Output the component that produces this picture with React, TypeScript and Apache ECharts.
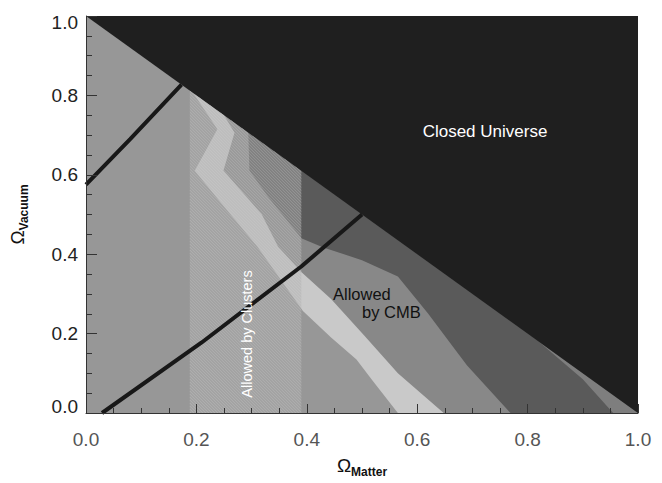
import React, { useEffect, useRef } from "react";
import * as echarts from "echarts";

// ---- data (Omega_Matter, Omega_Vacuum) ----
const xTickValues = [0, 0.2, 0.4, 0.6, 0.8, 1.0];
const plotBox = [[0, 0], [1, 0], [1, 1], [0, 1]];
const closedUniverse = [[0, 1], [1, 0], [1, 1]];
const lightEdge = [[0.195, 0.805], [0.238, 0.715], [0.197, 0.61], [0.25, 0.52], [0.31, 0.42], [0.393, 0.257], [0.444, 0.19], [0.49, 0.135], [0.52, 0.08], [0.565, 0]];
const mediumEdge = [[0.25, 0.75], [0.269, 0.706], [0.249, 0.611], [0.318, 0.501], [0.348, 0.419], [0.39, 0.355], [0.444, 0.287], [0.504, 0.195], [0.565, 0.1], [0.648, 0]];
const darkEdge = [[0.294, 0.706], [0.296, 0.611], [0.33, 0.544], [0.39, 0.44], [0.43, 0.417], [0.5, 0.385], [0.565, 0.344], [0.62, 0.25], [0.69, 0.12], [0.769, 0]];
const outerSliver = [[0.82, 0.18], [1, 0], [0.955, 0], [0.9, 0.085]];
const clusterStrip = [[0.188, 0], [0.39, 0], [0.39, 0.61], [0.188, 0.812]];
const lineA = [[0, 0.575], [0.08, 0.69], [0.173, 0.827]];
const lineB = [[0.029, 0], [0.209, 0.177], [0.39, 0.369], [0.5, 0.5]];

const closeRight = (edge: number[][]) => [...edge, [1, 0], [1, 1], [edge[0][0], 1]];

function polySeries(name: string, pts: number[][], color: string, z: number) {
  return {
    type: "custom",
    name,
    coordinateSystem: "cartesian2d",
    data: [[0, 0]],
    z,
    silent: true,
    clip: true,
    renderItem: (_p: any, api: any) => ({
      type: "polygon",
      shape: { points: pts.map((p) => api.coord(p)) },
      style: { fill: color },
    }),
  };
}

function clipDiag(poly: number[][], c: number) {
  const pts: number[][] = [];
  for (let i = 0; i < poly.length; i++) {
    const a = poly[i];
    const b = poly[(i + 1) % poly.length];
    const fa = a[0] - a[1] - c;
    const fb = b[0] - b[1] - c;
    if ((fa <= 0 && fb > 0) || (fa > 0 && fb <= 0)) {
      const t = fa / (fa - fb);
      pts.push([a[0] + t * (b[0] - a[0]), a[1] + t * (b[1] - a[1])]);
    }
  }
  if (pts.length < 2) return null;
  pts.sort((p, q) => p[0] - q[0]);
  return [pts[0], pts[pts.length - 1]];
}

function stripSeries() {
  return {
    type: "custom",
    name: "clusters",
    coordinateSystem: "cartesian2d",
    data: [[0, 0]],
    z: 7,
    silent: true,
    clip: true,
    renderItem: (_p: any, api: any) => {
      const px = clusterStrip.map((p) => api.coord(p));
      const children: any[] = [
        { type: "polygon", shape: { points: px }, style: { fill: "rgba(176,176,176,0.45)" } },
      ];
      const cs = px.map((p) => p[0] - p[1]);
      const cmin = Math.min(...cs);
      const cmax = Math.max(...cs);
      for (let c = cmin + 1; c < cmax; c += 3) {
        const seg = clipDiag(px, c);
        if (!seg) continue;
        children.push({
          type: "line",
          shape: { x1: seg[0][0], y1: seg[0][1], x2: seg[1][0], y2: seg[1][1] },
          style: { stroke: "rgba(215,215,215,0.28)", lineWidth: 1 },
        });
      }
      return { type: "group", children };
    },
  };
}

export default function App() {
  const ref = useRef<HTMLDivElement>(null);
  useEffect(() => {
    document.body.style.margin = "0";
    document.body.style.overflow = "hidden";
    const chart = echarts.init(ref.current!, undefined, { renderer: "svg" });
    const font = "Liberation Sans";
    chart.setOption({
      animation: false,
      backgroundColor: "#ffffff",
      grid: { left: 84, right: 24, top: 16, bottom: 65, containLabel: false },
      xAxis: {
        type: "value",
        min: 0,
        max: 1,
        interval: 0.2,
        z: 10,
        axisLine: { show: true, lineStyle: { color: "#333", width: 1 } },
        axisTick: { show: true, inside: true, length: 9, lineStyle: { color: "#333" } },
        minorTick: { show: true, splitNumber: 4, length: 5, lineStyle: { color: "#333" } },
        splitLine: { show: false },
        axisLabel: {
          formatter: (v: number) => (xTickValues.includes(Math.round(v * 10) / 10) ? v.toFixed(1) : ""),
          color: "#555",
          fontSize: 19,
          fontFamily: font,
          margin: 17,
        },
        name: "{o|Ω}{s|Matter}",
        nameLocation: "middle",
        nameGap: 43,
        nameTextStyle: {
          rich: {
            o: { fontSize: 19, fontFamily: font, color: "#111", padding: [0, 0, 3, 0], verticalAlign: "bottom" },
            s: { fontSize: 12, fontFamily: font, color: "#111", fontWeight: "bold", verticalAlign: "bottom" },
          },
        },
      },
      yAxis: {
        type: "value",
        min: 0,
        max: 1,
        interval: 0.2,
        z: 10,
        axisLine: { show: true, lineStyle: { color: "#333", width: 1 } },
        axisTick: { show: true, inside: true, length: 11, lineStyle: { color: "#333" } },
        minorTick: { show: true, splitNumber: 4, length: 6, lineStyle: { color: "#333" } },
        splitLine: { show: false },
        axisLabel: {
          formatter: (v: number) => (v >= 0.99 ? "{t|1.0}" : v <= 0.01 ? "{b|0.0}" : v.toFixed(1)),
          color: "#222",
          fontSize: 19,
          fontFamily: font,
          margin: 8,
          rich: {
            t: { fontSize: 19, fontFamily: font, color: "#222", padding: [13, 0, 0, 0] },
            b: { fontSize: 19, fontFamily: font, color: "#222", padding: [0, 0, 13, 0] },
          },
        },
        name: "{o|Ω}{s|Vacuum}",
        nameLocation: "middle",
        nameRotate: 90,
        nameGap: 56,
        nameTextStyle: {
          rich: {
            o: { fontSize: 19, fontFamily: font, color: "#111", padding: [0, 0, 3, 0], verticalAlign: "bottom" },
            s: { fontSize: 12, fontFamily: font, color: "#111", fontWeight: "bold", verticalAlign: "bottom" },
          },
        },
      },
      series: [
        polySeries("background", plotBox, "#979797", 1),
        polySeries("cmb-inner", closeRight(lightEdge), "#c9c9c9", 2),
        polySeries("cmb-mid", closeRight(mediumEdge), "#888888", 3),
        polySeries("cmb-outer", closeRight(darkEdge), "#5a5a5a", 4),
        polySeries("cmb-sliver", outerSliver, "#7e7e7e", 5),
        polySeries("closed", closedUniverse, "#1f1f1f", 6),
        stripSeries(),
        {
          type: "line",
          name: "lineA",
          data: lineA,
          showSymbol: false,
          z: 8,
          silent: true,
          lineStyle: { color: "#181818", width: 4 },
        },
        {
          type: "line",
          name: "lineB",
          data: lineB,
          showSymbol: false,
          z: 8,
          silent: true,
          lineStyle: { color: "#181818", width: 4 },
        },
      ],
      graphic: [
        {
          type: "text",
          x: 485,
          y: 131,
          z: 20,
          style: { text: "Closed Universe", fill: "#ffffff", fontSize: 17, fontFamily: font, align: "center", verticalAlign: "middle" },
        },
        {
          type: "text",
          x: 333,
          y: 294,
          z: 20,
          style: { text: "Allowed", fill: "#111", fontSize: 16.5, fontFamily: font, align: "left", verticalAlign: "middle" },
        },
        {
          type: "text",
          x: 362,
          y: 312,
          z: 20,
          style: { text: "by CMB", fill: "#111", fontSize: 16.5, fontFamily: font, align: "left", verticalAlign: "middle" },
        },
        {
          type: "text",
          x: 247,
          y: 334,
          z: 20,
          rotation: Math.PI / 2,
          style: { text: "Allowed by Clusters", fill: "#ffffff", fontSize: 14.5, fontFamily: font, align: "center", verticalAlign: "middle" },
        },
      ],
    });
    return () => chart.dispose();
  }, []);
  return <div ref={ref} style={{ width: 662, height: 483 }} />;
}
